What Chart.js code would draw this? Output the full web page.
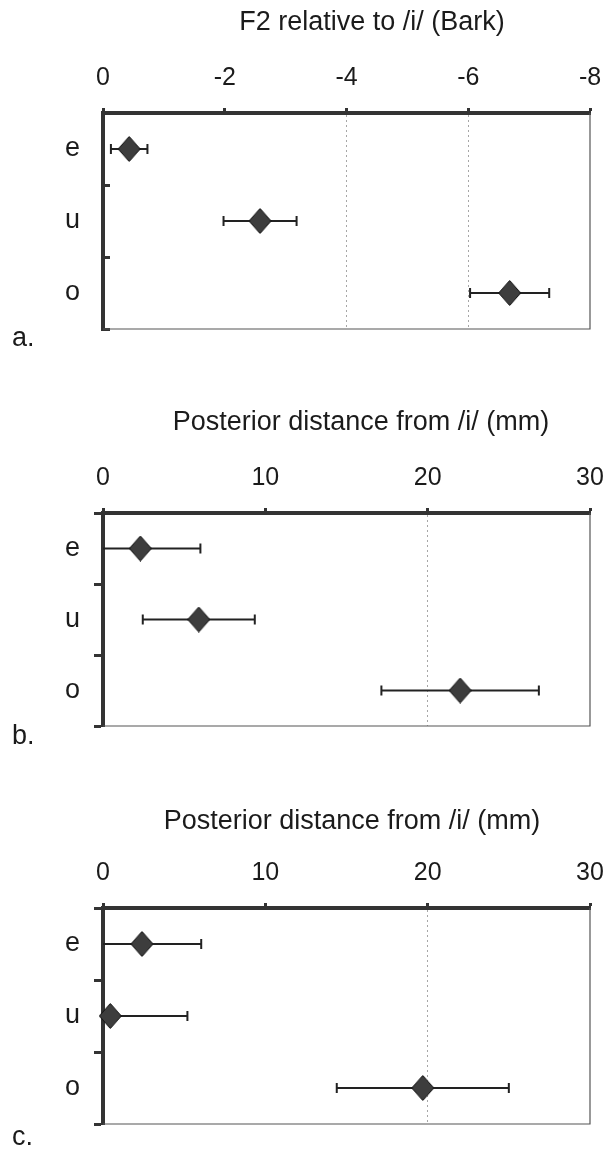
<!DOCTYPE html>
<html>
<head>
<meta charset="utf-8">
<script src="https://cdn.jsdelivr.net/npm/chart.js@4"></script>
<style>
  body { margin: 0; background: #fff; }
  canvas.panel { position: absolute; left: 0; }
</style>
</head>
<body>
<canvas id="panelA" class="panel" width="609" height="360" style="top:0px"></canvas>
<canvas id="panelB" class="panel" width="609" height="380" style="top:380px"></canvas>
<canvas id="panelC" class="panel" width="609" height="379" style="top:770px"></canvas>
<script>
const vowels = ['e', 'u', 'o'];

// a. F2 relative to /i/ (Bark): means and spread
const f2Bark = [-0.43, -2.58, -6.68];
const f2BarkSd = [0.30, 0.60, 0.65];
const barkTicks = [0, -2, -4, -6, -8];

// b. and c. posterior distance from /i/ (mm)
const distB = [2.3, 5.9, 22.0];
const distBSd = [3.7, 3.45, 4.85];
const distC = [2.4, 0.45, 19.7];
const distCSd = [3.65, 4.75, 5.3];
const mmTicks = [0, 10, 20, 30];

Chart.defaults.font.family = '"Liberation Sans", Arial, sans-serif';
Chart.defaults.color = '#1b1b1b';

const INK = '#333';

// filled diamond marker, a bit taller than wide
function makeDiamond(w, h) {
  const c = document.createElement('canvas');
  c.width = w; c.height = h;
  const g = c.getContext('2d');
  g.beginPath();
  g.moveTo(w / 2, 0.5);
  g.lineTo(w - 0.5, h / 2);
  g.lineTo(w / 2, h - 0.5);
  g.lineTo(0.5, h / 2);
  g.closePath();
  g.fillStyle = '#3d3d3d';
  g.fill();
  g.strokeStyle = '#111';
  g.lineWidth = 1;
  g.stroke();
  return c;
}
const diamond = makeDiamond(23, 26);

// horizontal error bars, cut off at the axis limits (no cap where cut)
const errorBars = {
  id: 'errorBars',
  beforeDatasetsDraw(chart) {
    const ctx = chart.ctx;
    const xs = chart.scales.x;
    const lo = Math.min(xs.min, xs.max), hi = Math.max(xs.min, xs.max);
    chart.data.datasets.forEach((ds, di) => {
      const meta = chart.getDatasetMeta(di);
      ds.data.forEach((p, i) => {
        const e = ds.errors[i];
        const a = Math.max(lo, p.x - e), b = Math.min(hi, p.x + e);
        const y = meta.data[i].y;
        const xa = xs.getPixelForValue(a), xb = xs.getPixelForValue(b);
        ctx.save();
        ctx.strokeStyle = '#222';
        ctx.lineWidth = 2;
        ctx.beginPath();
        ctx.moveTo(xa, y);
        ctx.lineTo(xb, y);
        if (a === p.x - e) { ctx.moveTo(xa, y - 5); ctx.lineTo(xa, y + 5); }
        if (b === p.x + e) { ctx.moveTo(xb, y - 5); ctx.lineTo(xb, y + 5); }
        ctx.stroke();
        ctx.restore();
      });
    });
  }
};

// thin right and bottom edges of the plot box
const frame = {
  id: 'frame',
  beforeDatasetsDraw(chart) {
    const {ctx, chartArea: c} = chart;
    ctx.save();
    ctx.strokeStyle = '#555';
    ctx.lineWidth = 1.2;
    ctx.beginPath();
    ctx.moveTo(c.right, c.top);
    ctx.lineTo(c.right, c.bottom);
    ctx.lineTo(c.left, c.bottom);
    ctx.stroke();
    ctx.restore();
  }
};

// axis title above the numbers and the panel letter
const panelText = {
  id: 'panelText',
  afterDraw(chart, args, opts) {
    const ctx = chart.ctx;
    ctx.save();
    ctx.fillStyle = '#1b1b1b';
    ctx.textBaseline = 'middle';
    ctx.font = '27px "Liberation Sans", Arial, sans-serif';
    ctx.textAlign = 'center';
    ctx.fillText(opts.title, opts.titleX, opts.titleY);
    ctx.textAlign = 'left';
    ctx.fillText(opts.letter, 12, opts.letterY);
    ctx.restore();
  }
};

// keep the plot box where it is, whatever the label overhang
function noOverhang(s) {
  s.paddingTop = 0;
  s.paddingBottom = 0;
  s.paddingLeft = 0;
  s.paddingRight = 0;
}

const panels = [
  { id: 'panelA', letter: 'a.', title: 'F2 relative to /i/ (Bark)', values: f2Bark, sd: f2BarkSd,
    ticks: barkTicks, reverse: true, gridAt: [-4, -6],
    axisTop: 113, bottomPad: 31, titleX: 372, titleY: 23, letterY: 339, yTick: -7 },
  { id: 'panelB', letter: 'b.', title: 'Posterior distance from /i/ (mm)', values: distB, sd: distBSd,
    ticks: mmTicks, reverse: false, gridAt: [20],
    axisTop: 133, bottomPad: 34, titleX: 361, titleY: 43, letterY: 357, yTick: 9 },
  { id: 'panelC', letter: 'c.', title: 'Posterior distance from /i/ (mm)', values: distC, sd: distCSd,
    ticks: mmTicks, reverse: false, gridAt: [20],
    axisTop: 138, bottomPad: 25, titleX: 352, titleY: 52, letterY: 368, yTick: 9 }
];

panels.forEach(p => {
  new Chart(document.getElementById(p.id), {
    type: 'scatter',
    data: {
      datasets: [{
        data: vowels.map((v, i) => ({ x: p.values[i], y: v })),
        errors: p.sd,
        pointStyle: diamond,
        pointRadius: 12,
        clip: false
      }]
    },
    options: {
      responsive: false,
      animation: false,
      events: [],
      layout: { padding: { top: 0, right: 19, bottom: p.bottomPad, left: 0 } },
      plugins: {
        legend: { display: false },
        tooltip: { enabled: false },
        panelText: { title: p.title, titleX: p.titleX, titleY: p.titleY, letter: p.letter, letterY: p.letterY }
      },
      scales: {
        x: {
          type: 'linear',
          position: 'top',
          min: Math.min(...p.ticks),
          max: Math.max(...p.ticks),
          reverse: p.reverse,
          afterBuildTicks: s => { s.ticks = p.ticks.map(v => ({ value: v })); },
          afterFit: s => { s.height = p.axisTop; noOverhang(s); },
          ticks: { font: { size: 25 }, padding: 15, maxRotation: 0 },
          grid: {
            color: c => p.gridAt.includes(c.tick && c.tick.value) ? 'rgba(0,0,0,0.35)' : 'rgba(0,0,0,0)',
            lineWidth: 1,
            tickColor: INK,
            tickWidth: 3,
            tickLength: 5
          },
          border: { color: INK, width: 4, dash: [2, 3] }
        },
        y: {
          type: 'category',
          labels: vowels,
          offset: true,
          afterFit: s => { s.width = 103; noOverhang(s); },
          ticks: { font: { size: 27 }, padding: 23 - p.yTick },
          grid: {
            offset: true,
            drawOnChartArea: false,
            tickColor: INK,
            tickWidth: 3,
            tickLength: p.yTick
          },
          border: { color: INK, width: 4 }
        }
      }
    },
    plugins: [frame, errorBars, panelText]
  });
});
</script>
</body>
</html>
